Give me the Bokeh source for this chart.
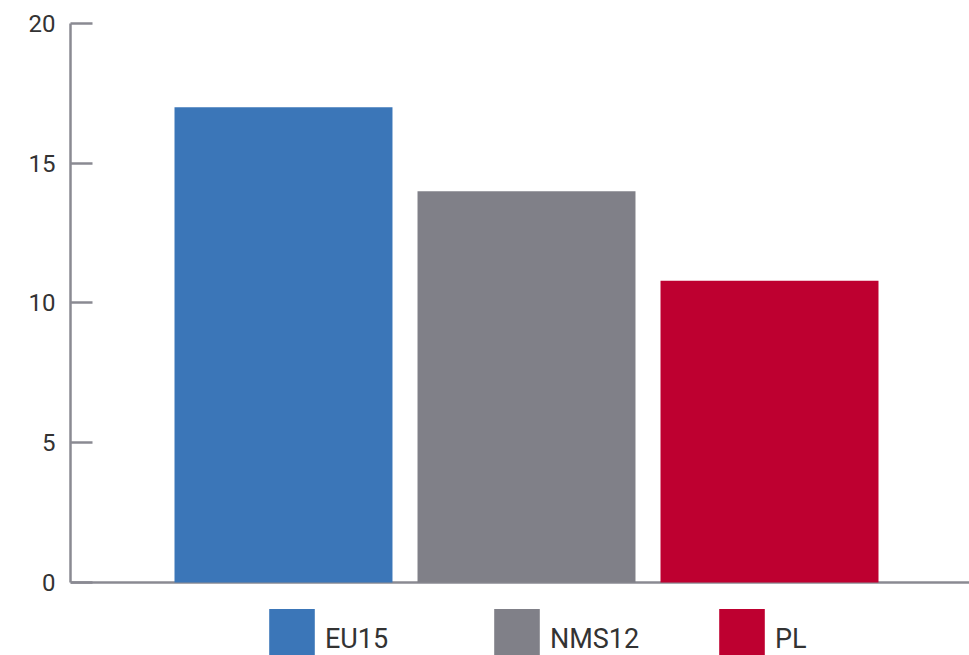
from bokeh.plotting import figure
from bokeh.models import (ColumnDataSource, Range1d, FixedTicker, Span,
                          Legend, LegendItem)
from bokeh.embed import file_html
from bokeh.resources import INLINE

categories = ["EU15", "NMS12", "PL"]
values = [17.0, 14.0, 10.8]
colors = ["#3b76b8", "#808088", "#be0030"]
y_ticks = [0, 5, 10, 15, 20]

FONT = "Roboto"
AXIS_COLOR = "#8a8a92"

src = ColumnDataSource(dict(x=list(range(len(categories))), top=values,
                            cat=categories, color=colors))

# frame reaches the bottom of the figure so the legend (drawn inside it) is not clipped;
# the part below zero holds the legend
p = figure(width=969, height=655, output_backend="svg", toolbar_location=None,
           x_range=Range1d(-0.8765, 2.823), y_range=Range1d(-2.612, 20),
           x_axis_location=None, min_border_left=70, min_border_right=0,
           min_border_top=23, min_border_bottom=0)
p.outline_line_color = None
p.grid.visible = False
p.background_fill_color = "white"
p.border_fill_color = "white"

base = Span(location=0, dimension="width", line_color=AXIS_COLOR,
            line_width=2.5, level="underlay")
p.add_layout(base)

r = p.vbar(x="x", top="top", bottom=0, width=0.897, source=src,
           fill_color="color", line_color=None)

ax = p.yaxis[0]
ax.ticker = FixedTicker(ticks=y_ticks)
ax.bounds = (0, 20)
ax.axis_line_color = AXIS_COLOR
ax.axis_line_width = 2.5
ax.major_tick_line_color = AXIS_COLOR
ax.major_tick_line_width = 2.5
ax.major_tick_in = 22
ax.major_tick_out = 0
ax.minor_tick_line_color = None
ax.major_label_standoff = 15
ax.major_label_text_font = FONT
ax.major_label_text_font_size = "24px"
ax.major_label_text_color = "#333333"

items = [LegendItem(label=c, renderers=[r], index=i) for i, c in enumerate(categories)]
legend = Legend(items=items, orientation="horizontal", location=(193, -22),
                glyph_width=57, glyph_height=76, label_width=163, spacing=0,
                label_standoff=5, padding=0, margin=0, border_line_color=None,
                background_fill_alpha=0, label_text_font=FONT,
                label_text_font_size="27px", label_text_color="#333333")
p.add_layout(legend, "center")

open("out.html", "w").write(file_html(p, INLINE))
